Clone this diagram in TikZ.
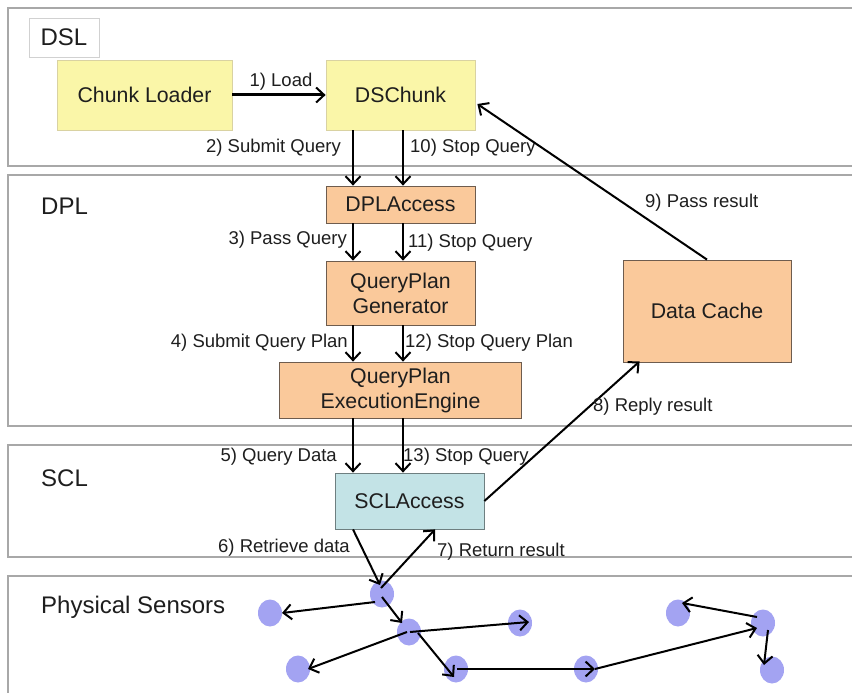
\documentclass[tikz,border=0pt]{standalone}
\usepackage{fontspec}
\setmainfont{Liberation Sans}
\usetikzlibrary{arrows.meta,shapes.geometric}
\definecolor{layer}{HTML}{A8A8A8}
\definecolor{yel}{HTML}{FAF6A8}
\definecolor{yelb}{HTML}{D9D2A2}
\definecolor{ora}{HTML}{FAC99B}
\definecolor{orab}{HTML}{6E5C4E}
\definecolor{teal}{HTML}{C3E3E6}
\definecolor{tealb}{HTML}{6E7F80}
\definecolor{sens}{HTML}{A3A3F2}
\definecolor{txt}{HTML}{1E1E1E}
\tikzset{
  layerbox/.style={draw=layer, line width=2.8pt},
  boxtxt/.style={font=\fontsize{21.3}{25}\selectfont, text=txt, align=center, inner sep=0pt},
  ybox/.style={boxtxt, draw=yelb, fill=yel, line width=0.8pt},
  obox/.style={boxtxt, draw=orab, fill=ora, line width=0.8pt},
  tbox/.style={boxtxt, draw=tealb, fill=teal, line width=0.8pt},
  layertxt/.style={font=\fontsize{24}{28}\selectfont, text=txt, inner sep=0pt},
  lbl/.style={font=\fontsize{18.5}{22}\selectfont, text=txt, inner sep=0pt},
  arr/.style={draw=black, line width=2pt, -{Straight Barb[length=8pt,width=15pt,line width=2pt]}},
  sensor/.style={ellipse, fill=sens, draw=none, minimum width=24pt, minimum height=27pt, inner sep=0pt},
}
\begin{document}
\begin{tikzpicture}[x=1pt,y=-1pt]
\useasboundingbox (0,0) rectangle (852,693);
\clip (0,0) rectangle (852,693);
\fill[white] (0,0) rectangle (852,693);
% layers
\draw[layerbox] (8,8) rectangle (880,166);
\draw[layerbox] (8,175) rectangle (880,426);
\draw[layerbox] (8,445) rectangle (880,557);
\draw[layerbox] (8,576) rectangle (880,720);
% layer labels
\node[layertxt, draw=black!18, fill=white, line width=0.8pt, minimum width=70pt, minimum height=39pt] (dsl) at (64,37.5) {DSL};
\node[layertxt, anchor=west] (dpl) at (41,206) {DPL};
\node[layertxt, anchor=west] (scl) at (41,478) {SCL};
\node[layertxt, anchor=west] (phys) at (41,607) {Physical Sensors};
% boxes
\node[ybox, minimum width=175pt, minimum height=70pt] (loader) at (144.5,95) {Chunk Loader};
\node[ybox, minimum width=149pt, minimum height=70pt] (dschunk) at (400.5,95) {DSChunk};
\node[obox, minimum width=149pt, minimum height=37pt] (dplaccess) at (400.5,204.5) {DPLAccess};
\node[obox, minimum width=149pt, minimum height=64pt] (qpg) at (400.5,293) {QueryPlan\\Generator};
\node[obox, minimum width=242pt, minimum height=56pt] (qpee) at (400.5,390) {QueryPlan\\ExecutionEngine};
\node[obox, minimum width=168pt, minimum height=102pt] (cache) at (707,311) {Data Cache};
\node[tbox, minimum width=149pt, minimum height=56pt] (sclaccess) at (409.5,501) {SCLAccess};
% sensors
\node[sensor] (s1) at (382,594) {};
\node[sensor] (s2) at (270,613) {};
\node[sensor] (s3) at (409,632) {};
\node[sensor] (s4) at (520,623) {};
\node[sensor] (s5) at (298,669) {};
\node[sensor] (s6) at (456,669) {};
\node[sensor] (s7) at (586,669) {};
\node[sensor] (s8) at (678,613) {};
\node[sensor] (s9) at (763,623) {};
\node[sensor] (s10) at (772,670) {};
% connectors
\draw[arr, line width=3pt] (loader.east) -- (dschunk.west);
\node[lbl] (l1) at (281,82) {1) Load};
\draw[arr] ([xshift=-47.5pt]dschunk.south) -- ([xshift=-47.5pt]dplaccess.north);
\draw[arr] ([xshift=2.5pt]dschunk.south) -- ([xshift=2.5pt]dplaccess.north);
\node[lbl, anchor=east] (l2) at (341,148) {2) Submit Query};
\node[lbl, anchor=west] (l10) at (410,148) {10) Stop Query};
\draw[arr] ([xshift=-47.5pt]dplaccess.south) -- ([xshift=-47.5pt]qpg.north);
\draw[arr] ([xshift=2.5pt]dplaccess.south) -- ([xshift=2.5pt]qpg.north);
\node[lbl, anchor=east] (l3) at (347,240) {3) Pass Query};
\node[lbl, anchor=west] (l11) at (408,243) {11) Stop Query};
\draw[arr] ([xshift=-47.5pt]qpg.south) -- ([xshift=-47.5pt]qpee.north);
\draw[arr] ([xshift=2.5pt]qpg.south) -- ([xshift=2.5pt]qpee.north);
\node[lbl, anchor=east] (l4) at (348,343) {4) Submit Query Plan};
\node[lbl, anchor=west] (l12) at (405,343) {12) Stop Query Plan};
\draw[arr] ([xshift=-47.5pt]qpee.south) -- ([xshift=-56.5pt]sclaccess.north);
\draw[arr] ([xshift=2.5pt]qpee.south) -- ([xshift=-6.5pt]sclaccess.north);
\node[lbl, anchor=east] (l5) at (337,457) {5) Query Data};
\node[lbl, anchor=west] (l13) at (403,457) {13) Stop Query};
\draw[arr] ([xshift=-56.5pt]sclaccess.south) -- ([shift={(-2,-9)}]s1.center);
\draw[arr] ([shift={(-1,-6)}]s1.center) -- ([xshift=25.5pt]sclaccess.south);
\node[lbl, anchor=east] (l6) at (350,548) {6) Retrieve data};
\node[lbl, anchor=west] (l7) at (437,552) {7) Return result};
\draw[arr] (sclaccess.east) -- ([shift={(17,-1)}]cache.south west);
\node[lbl, anchor=west] (l8) at (593,407) {8) Reply result};
\draw[arr] (cache.north) -- ([shift={(2,9)}]dschunk.east);
\node[lbl, anchor=west] (l9) at (645,203) {9) Pass result};
% sensor arrows
\draw[arr] ([shift={(-7,8)}]s1.center) -- ([shift={(12,0)}]s2.center);
\draw[arr] ([shift={(0,3)}]s1.center) -- ([shift={(-7,-9)}]s3.center);
\draw[arr] ([shift={(1,0)}]s3.center) -- ([shift={(9,-1)}]s4.center);
\draw[arr] ([shift={(-2,0)}]s3.center) -- ([shift={(10,0)}]s5.center);
\draw[arr] ([shift={(9,1)}]s3.center) -- ([shift={(-2,8)}]s6.center);
\draw[arr] ([shift={(1,0)}]s6.center) -- ([shift={(9,0)}]s7.center);
\draw[arr] ([shift={(9,0)}]s7.center) -- ([shift={(-6,5)}]s9.center);
\draw[arr] ([shift={(-6,-6)}]s9.center) -- ([shift={(4,-10)}]s8.center);
\draw[arr] ([shift={(5,7)}]s9.center) -- ([shift={(-8,-5)}]s10.center);
\end{tikzpicture}
\end{document}
